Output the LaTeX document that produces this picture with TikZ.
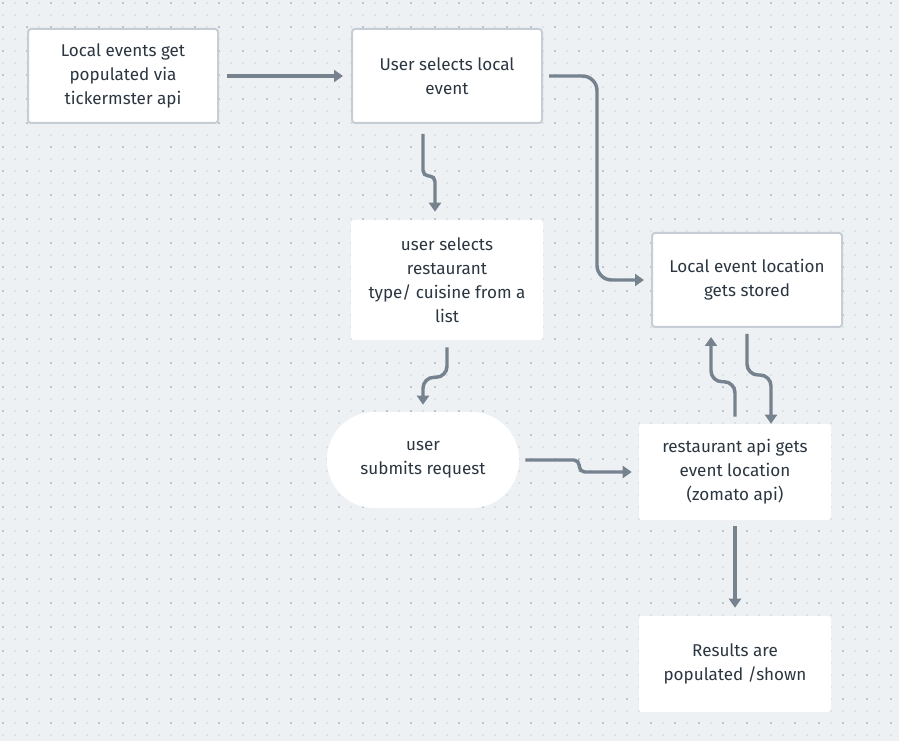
\documentclass[tikz,border=0pt]{standalone}
\usepackage{fontspec}
\setmainfont{Fira Sans}
\usetikzlibrary{arrows.meta,calc}

\definecolor{canvas}{HTML}{EEF1F4}
\definecolor{dotlight}{HTML}{DCE1E6}
\definecolor{dotdark}{HTML}{BCC4CC}
\definecolor{edge}{HTML}{C6CDD5}
\definecolor{ink}{HTML}{2B3641}
\definecolor{wire}{HTML}{76838F}

\begin{document}
\begin{tikzpicture}[x=0.75pt,y=-0.75pt,
  card/.style={rectangle, fill=white, rounded corners=2.25pt,
    minimum width=144pt, minimum height=72pt, inner sep=0pt,
    align=center, text=ink, font=\fontsize{12.8}{18}\selectfont,
    execute at begin node={\rule{0pt}{14pt}}},
  framed/.style={card, draw=edge, line width=1.5pt,
    minimum width=142.5pt, minimum height=70.5pt},
  pill/.style={card, rounded corners=35.5pt},
  flow/.style={draw=wire, line width=2.6pt, line cap=butt,
    -{Triangle[width=9pt,length=6.75pt]}},
  dotrow/.style={draw=dotlight, line width=1.5pt, dash pattern=on 1.5pt off 7.5pt},
  dotrowdark/.style={draw=dotdark, line width=1.5pt, dash pattern=on 1.5pt off 16.5pt},
]
% canvas and its dotted grid
\useasboundingbox (0,0) rectangle (899,741);
\fill[canvas] (0,0) rectangle (899,741);
\foreach \k in {0,...,61} \draw[dotrow] (2,3+12*\k) -- (899,3+12*\k);
\foreach \k in {0,...,30} \draw[dotrowdark] (2,3+24*\k) -- (899,3+24*\k);

% steps
\node[framed] (fetch)   at (123,76)  {Local events get\\populated via\\tickermster api};
\node[framed] (pick)    at (447,76)  {User selects local\\event};
\node[card, minimum height=90pt] (cuisine) at (447,280) {user selects\\restaurant\\type/ cuisine from a\\list};
\node[framed] (store)   at (747,280) {Local event location\\gets stored};
\node[pill]   (submit)  at (423,460) {user\\submits request};
\node[card]   (lookup)  at (735,472) {restaurant api gets\\event location\\(zomato api)};
\node[card]   (results) at (735,664) {Results are\\populated /shown};

% connectors
\draw[flow, shorten <=6pt, shorten >=6pt] (fetch) -- (pick);
\draw[flow, rounded corners=11pt, shorten <=4.5pt, shorten >=5.25pt]
  (pick.east) -- ++(54,0) |- (store.west);

\coordinate (a3s) at ($(pick.south)+(-24,10)$);
\coordinate (a3e) at ($(cuisine.north)+(-12,-8)$);
\draw[flow, rounded corners=4.1pt] (a3s) -- ++(0,42) -| (a3e);

\coordinate (a4s) at ($(cuisine.south)+(0,7)$);
\coordinate (a4e) at ($(submit.north)+(0,-7)$);
\draw[flow, rounded corners=8.25pt] (a4s) -- ++(0,30) -| (a4e);

\coordinate (a5s) at ($(submit.east)+(6,0)$);
\coordinate (a5e) at ($(lookup.west)+(-7,0)$);
\draw[flow, rounded corners=4.1pt] (a5s) -- ++(54,0) |- (a5e);

\coordinate (a6s) at ($(lookup.north)+(0,-7)$);
\coordinate (a6e) at ($(store.south)+(-36,9)$);
\draw[flow, rounded corners=8.25pt] (a6s) -- ++(0,-35) -| (a6e);

\coordinate (a7s) at ($(store.south)+(0,6)$);
\coordinate (a7e) at ($(lookup.north)+(36,0)$);
\draw[flow, rounded corners=8.25pt] (a7s) -- ++(0,41) -| (a7e);

\draw[flow, shorten <=4.5pt, shorten >=6pt] (lookup) -- (results);
\end{tikzpicture}
\end{document}
